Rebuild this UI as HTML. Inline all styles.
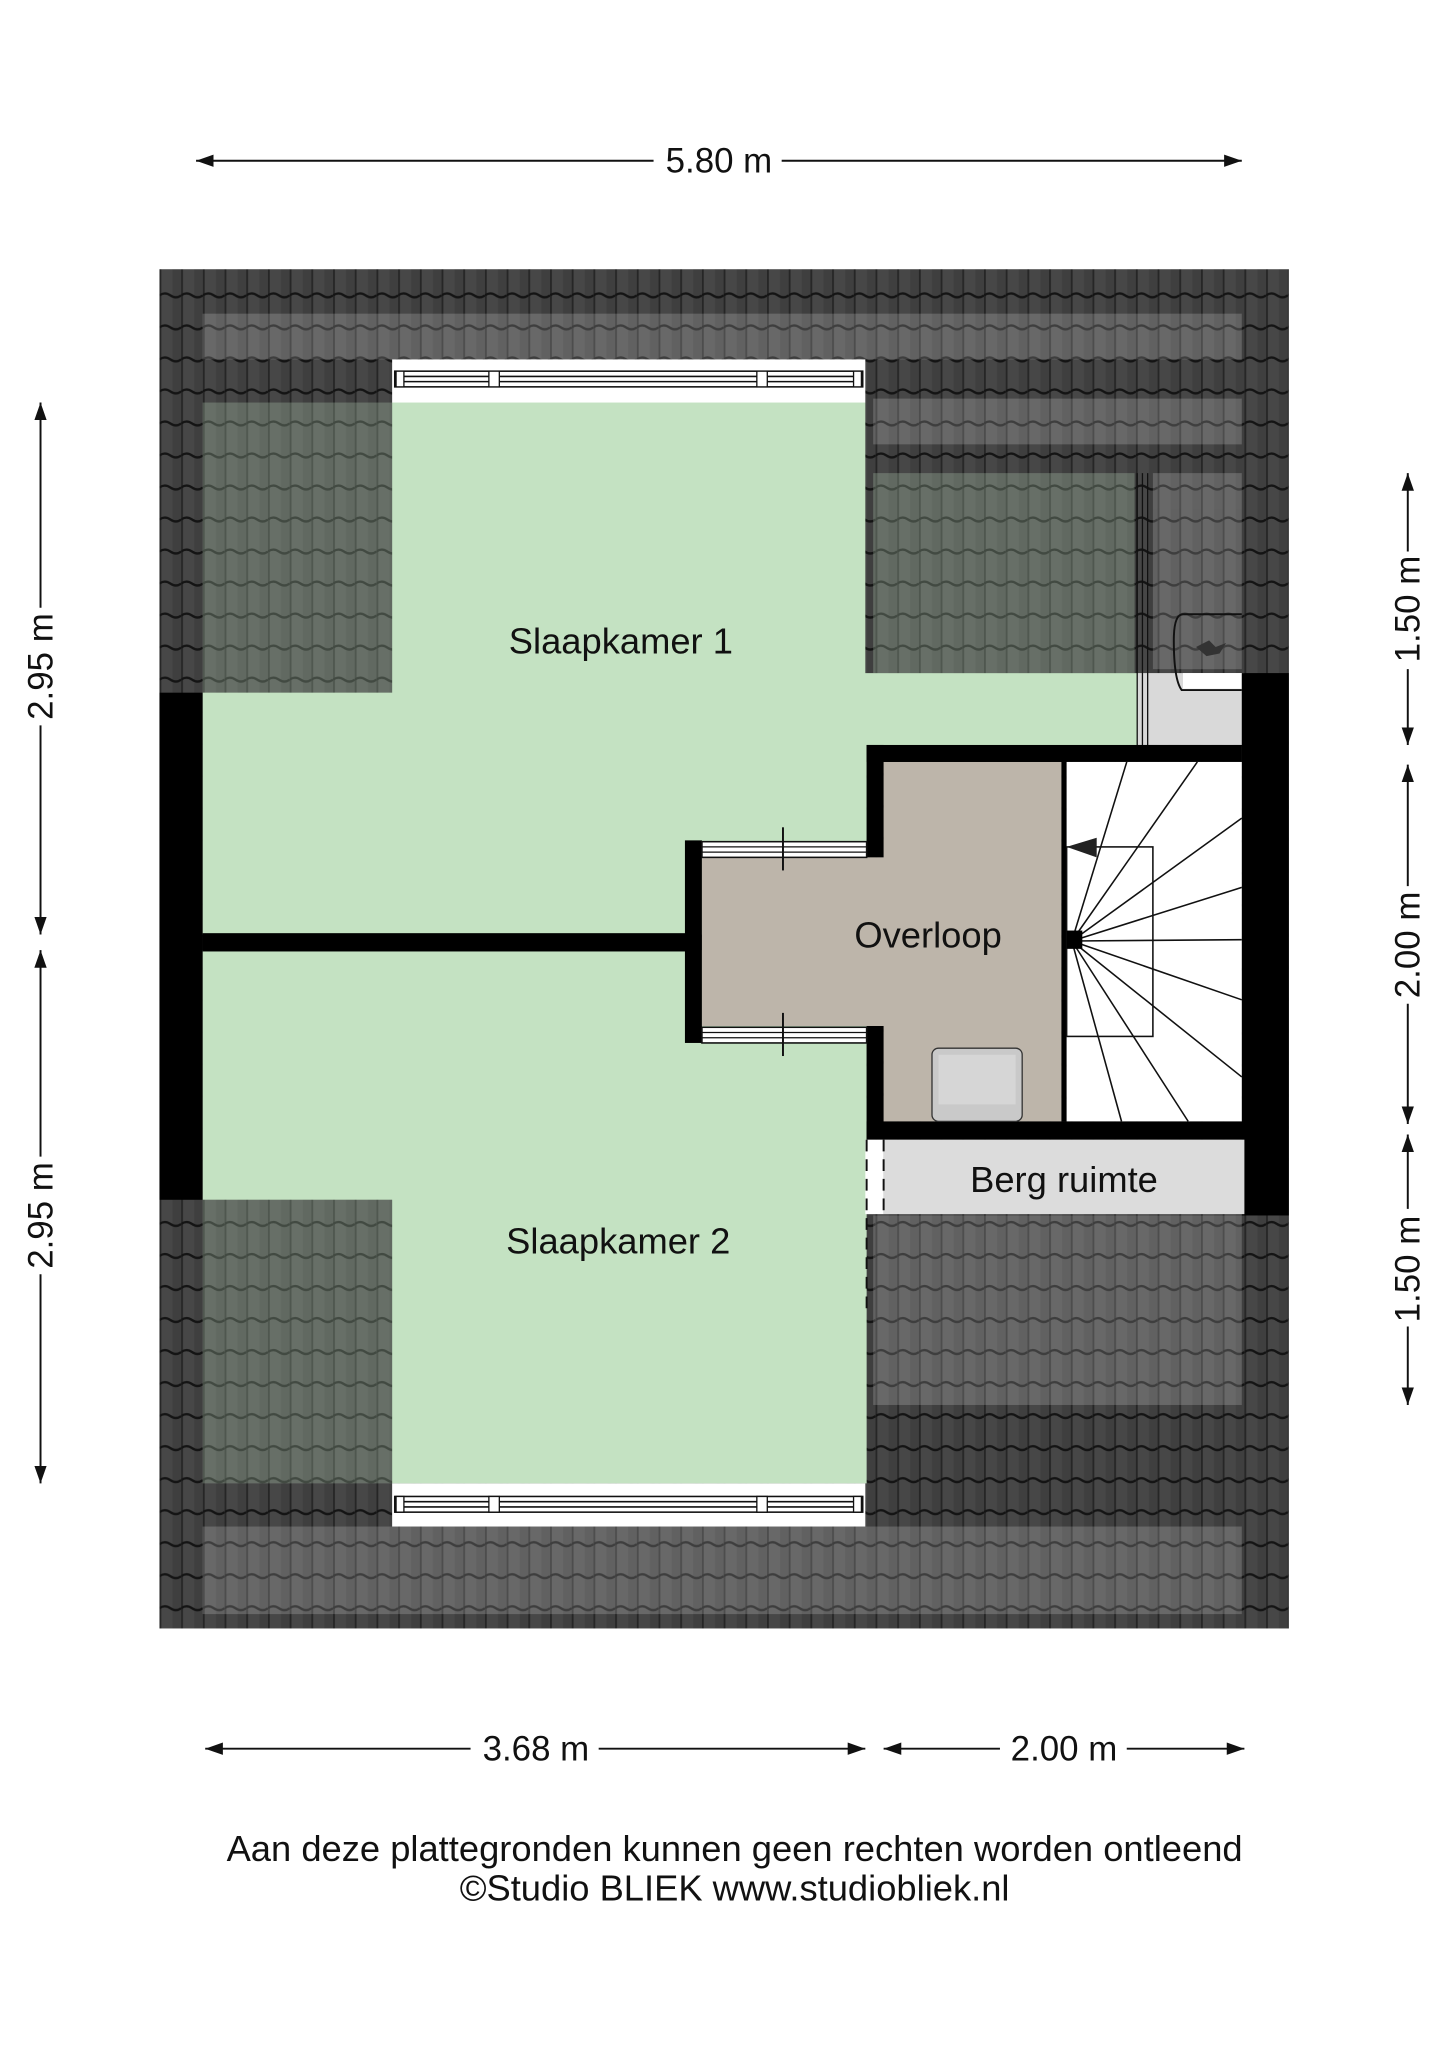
<!DOCTYPE html>
<html><head><meta charset="utf-8"><style>
html,body{margin:0;padding:0;background:#fff}
svg{display:block}
text{font-family:"Liberation Sans",sans-serif;fill:#111}
</style></head><body>
<svg width="1447" height="2048" viewBox="0 0 1107 1567" preserveAspectRatio="none" xmlns="http://www.w3.org/2000/svg">
<defs>
<pattern id="tile" x="122" y="206" width="16.6" height="24.5" patternUnits="userSpaceOnUse">
<rect width="16.6" height="24.5" fill="#474747"/>
<rect x="10" width="6.6" height="24.5" fill="#3f3f3f"/>
<rect x="0" width="1.4" height="24.5" fill="#262626"/>
<path d="M0 20 Q4 17 8.3 20 T16.6 20" stroke="#141414" stroke-width="1.8" fill="none"/>
</pattern>
<marker id="ar" viewBox="0 0 10 10" refX="10" refY="5" markerWidth="9" markerHeight="9" orient="auto-start-reverse"><path d="M0 1.5 L10 5 L0 8.5z" fill="#111"/></marker>
</defs>

<g stroke="#111" stroke-width="1.5" fill="none">
<line x1="150" y1="123" x2="500" y2="123" marker-start="url(#ar)"/>
<line x1="598" y1="123" x2="950" y2="123" marker-end="url(#ar)"/>
<line x1="157" y1="1338" x2="360" y2="1338" marker-start="url(#ar)"/>
<line x1="458" y1="1338" x2="662" y2="1338" marker-end="url(#ar)"/>
<line x1="676" y1="1338" x2="765" y2="1338" marker-start="url(#ar)"/>
<line x1="862" y1="1338" x2="952" y2="1338" marker-end="url(#ar)"/>
<line x1="31" y1="308" x2="31" y2="465" marker-start="url(#ar)"/>
<line x1="31" y1="555" x2="31" y2="715" marker-end="url(#ar)"/>
<line x1="31" y1="727" x2="31" y2="885" marker-start="url(#ar)"/>
<line x1="31" y1="975" x2="31" y2="1135" marker-end="url(#ar)"/>
<line x1="1077" y1="362" x2="1077" y2="422" marker-start="url(#ar)"/>
<line x1="1077" y1="512" x2="1077" y2="570" marker-end="url(#ar)"/>
<line x1="1077" y1="585" x2="1077" y2="678" marker-start="url(#ar)"/>
<line x1="1077" y1="768" x2="1077" y2="860" marker-end="url(#ar)"/>
<line x1="1077" y1="868" x2="1077" y2="925" marker-start="url(#ar)"/>
<line x1="1077" y1="1015" x2="1077" y2="1075" marker-end="url(#ar)"/>
</g>
<g font-size="26.7">
<text x="550" y="132" text-anchor="middle">5.80 m</text>
<text x="410" y="1347" text-anchor="middle">3.68 m</text>
<text x="814" y="1347" text-anchor="middle">2.00 m</text>
<text transform="translate(40,510) rotate(-90)" text-anchor="middle">2.95 m</text>
<text transform="translate(40,930) rotate(-90)" text-anchor="middle">2.95 m</text>
<text transform="translate(1086,466) rotate(-90)" text-anchor="middle">1.50 m</text>
<text transform="translate(1086,723) rotate(-90)" text-anchor="middle">2.00 m</text>
<text transform="translate(1086,971) rotate(-90)" text-anchor="middle">1.50 m</text>
</g>

<rect x="122" y="206" width="864" height="1040" fill="url(#tile)"/>
<g fill="#fff" opacity="0.18">
<rect x="155" y="240" width="795" height="35"/>
<rect x="668" y="305" width="282" height="35"/>
<rect x="668" y="930" width="282" height="145"/>
<rect x="155" y="1168" width="795" height="67"/>
<rect x="882" y="362" width="68" height="150"/>
</g>
<g fill="#b9d8b9" opacity="0.28">
<rect x="155" y="308" width="145" height="222"/>
<rect x="668" y="362" width="200" height="153"/>
<rect x="155" y="918" width="145" height="217"/>
</g>

<path d="M300 308 H662 V515 H870 V570 H663 V715 H155 V530 H300 Z" fill="#c4e2c2"/>
<path d="M155 727 H663 V1135 H300 V918 H155 Z" fill="#c4e2c2"/>

<rect x="300" y="275" width="362" height="33" fill="#fff"/>
<rect x="300" y="1135" width="362" height="33" fill="#fff"/>
<g fill="none" stroke="#111" stroke-width="1.2">
<rect x="302" y="284" width="358" height="12"/>
<line x1="302" y1="288" x2="660" y2="288"/><line x1="302" y1="292" x2="660" y2="292"/>
<rect x="302" y="1145" width="358" height="12"/>
<line x1="302" y1="1149" x2="660" y2="1149"/><line x1="302" y1="1153" x2="660" y2="1153"/>
</g>
<g fill="#fff" stroke="#111" stroke-width="1"><rect x="303" y="284" width="6" height="12"/><rect x="374" y="284" width="8" height="12"/><rect x="579" y="284" width="8" height="12"/><rect x="653" y="284" width="6" height="12"/>
<rect x="303" y="1145" width="6" height="12"/><rect x="374" y="1145" width="8" height="12"/><rect x="579" y="1145" width="8" height="12"/><rect x="653" y="1145" width="6" height="12"/></g>

<rect x="870" y="515" width="82" height="55" fill="#d9d9d9"/>
<g stroke="#111" stroke-width="1"><line x1="870" y1="362" x2="870" y2="570"/><line x1="874" y1="362" x2="874" y2="570"/><line x1="878" y1="362" x2="878" y2="570"/></g>
<path d="M950 470 H905 Q898 470 898 490 Q898 520 904 528 H950" fill="none" stroke="#111" stroke-width="1.5"/>
<rect x="905" y="515" width="45" height="12" fill="#fff"/>
<path d="M915 495 l10 -5 l5 5 l8 -3 l-5 8 l-10 2z" fill="#333"/>

<g fill="#000">
<rect x="122" y="530" width="33" height="388"/>
<rect x="155" y="714" width="370" height="14"/>
<rect x="524" y="643" width="13" height="155"/>
<rect x="663" y="570" width="287" height="13"/>
<rect x="663" y="570" width="13" height="86"/>
<rect x="663" y="785" width="13" height="87"/>
<rect x="663" y="858" width="290" height="14"/>
<rect x="950" y="515" width="36" height="415"/>
<rect x="812" y="583" width="4" height="275"/>
</g>

<path d="M537 656 H676 V583 H812 V858 H676 V785 H537 Z" fill="#bdb5aa"/>
<g stroke="#111" stroke-width="1.2" fill="#fff">
<rect x="537" y="644" width="126" height="12"/>
<rect x="537" y="786" width="126" height="12"/>
</g>
<g stroke="#111" stroke-width="1"><line x1="537" y1="648" x2="663" y2="648"/><line x1="537" y1="652" x2="663" y2="652"/><line x1="537" y1="790" x2="663" y2="790"/><line x1="537" y1="794" x2="663" y2="794"/></g>
<g stroke="#111" stroke-width="1.5"><line x1="599" y1="633" x2="599" y2="666"/><line x1="599" y1="775" x2="599" y2="808"/></g>
<rect x="713" y="802" width="69" height="56" rx="5" fill="#c9c9c9" stroke="#333" stroke-width="1"/>
<rect x="718" y="807" width="59" height="38" fill="#d6d6d6"/>

<rect x="816" y="583" width="134" height="275" fill="#fff"/>
<g stroke="#111" stroke-width="1.2" fill="none">
<rect x="816" y="648" width="66" height="145"/>
<line x1="820" y1="720" x2="862" y2="583"/>
<line x1="820" y1="720" x2="916" y2="583"/>
<line x1="820" y1="720" x2="950" y2="626"/>
<line x1="820" y1="720" x2="950" y2="679"/>
<line x1="820" y1="720" x2="950" y2="719"/>
<line x1="820" y1="720" x2="950" y2="765"/>
<line x1="820" y1="720" x2="950" y2="824"/>
<line x1="820" y1="720" x2="858" y2="858"/>
<line x1="820" y1="720" x2="909" y2="858"/>
</g>
<rect x="816" y="712" width="12" height="14" fill="#000"/>
<path d="M816 648 L839 641 L839 656 Z" fill="#222"/>

<rect x="676" y="872" width="276" height="57" fill="#dcdcdc"/>
<rect x="662" y="872" width="14" height="57" fill="#fff"/>
<g stroke="#111" stroke-width="1.5" stroke-dasharray="9 6"><line x1="663" y1="872" x2="663" y2="1005"/><line x1="676" y1="872" x2="676" y2="929"/></g>

<g font-size="27.8" text-anchor="middle">
<text x="475" y="500">Slaapkamer 1</text>
<text x="710" y="725">Overloop</text>
<text x="814" y="912">Berg ruimte</text>
<text x="473" y="959">Slaapkamer 2</text>
</g>
<g font-size="27.8" text-anchor="middle">
<text x="562" y="1424">Aan deze plattegronden kunnen geen rechten worden ontleend</text>
<text x="562" y="1454">©Studio BLIEK www.studiobliek.nl</text>
</g>
</svg>
</body></html>
